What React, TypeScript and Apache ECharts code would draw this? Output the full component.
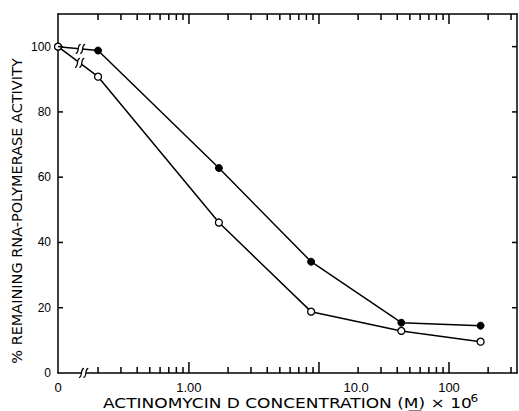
import React, { useEffect, useRef } from 'react';
import * as echarts from 'echarts';

// Actinomycin D concentration (M x 10^6); 0 = control
const concentrations = [0, 0.2, 1.7, 8.7, 43, 175];
// % remaining RNA-polymerase activity
const activityClosed = [100, 98.8, 62.8, 34.1, 15.4, 14.5];
const activityOpen = [100, 90.8, 46.1, 18.8, 12.9, 9.6];

const minorTickValues = [0.2, 0.3, 0.4, 0.5, 0.6, 0.7, 0.8, 0.9, 2, 3, 4, 5, 6, 7, 8, 9, 20, 30, 40, 50, 60, 70, 80, 90, 200, 300];
const majorTickValues = [1, 10, 100];
const xTickLabels = ['0', '1.00', '10.0', '100'];
const xTickLabelAt = [0, 1, 19.3, 100];
const yTickLabels = [0, 20, 40, 60, 80, 100];
const yInnerTicks = [20, 40, 60, 80, 100];
const axisBreakAt = 0.155;
const lineBreakFraction = [0.56, 0.54];

const X_MIN = -1.007;
const X_MAX = 2.523;
const Y_MAX = 110;
const toX = (c: number) => (c === 0 ? X_MIN : Math.log10(c));

export default function App() {
  const ref = useRef<HTMLDivElement>(null);
  useEffect(() => {
    document.body.style.margin = '0';
    const chart = echarts.init(ref.current!, undefined, { renderer: 'svg' });
    const closedData = concentrations.map((c, i) => [toX(c), activityClosed[i]]);
    const openData = concentrations.map((c, i) => [toX(c), activityOpen[i]]);
    const labelPos = xTickLabelAt.map(toX);

    // rows: [x0, y0, x1, y1, t, kind, rx, ry, rw, rh]
    // kind 0 = break mark at fraction t between (x0,y0) and (x1,y1); kind 1 = tick rect offset from (x0,y0)
    const marks: number[][] = [
      [closedData[0][0], closedData[0][1], closedData[1][0], closedData[1][1], lineBreakFraction[0], 0, 0, 0, 0, 0],
      [openData[0][0], openData[0][1], openData[1][0], openData[1][1], lineBreakFraction[1], 0, 0, 0, 0, 0],
      [toX(axisBreakAt), 0, toX(axisBreakAt), 0, 0, 0, 0, 0, 0, 0],
    ];
    const tick = (x: number, y: number, rx: number, ry: number, rw: number, rh: number) =>
      marks.push([x, y, x, y, 0, 1, rx, ry, rw, rh]);
    minorTickValues.forEach((v) => {
      tick(toX(v), 0, -0.75, -6, 1.5, 6);
      tick(toX(v), Y_MAX, -0.75, 0, 1.5, 6);
    });
    majorTickValues.forEach((v) => {
      tick(toX(v), 0, -0.75, -11, 1.5, 11);
      tick(toX(v), Y_MAX, -0.75, 0, 1.5, 10);
    });
    yInnerTicks.forEach((v) => {
      tick(X_MIN, v, 0, -0.75, 5, 1.5);
      tick(X_MAX, v, -5, -0.75, 5, 1.5);
    });

    const renderMark = (params: any, api: any) => {
      const a = api.coord([api.value(0), api.value(1)]);
      const kind = api.value(5);
      if (kind === 1) {
        return {
          type: 'group',
          children: [
            {
              type: 'rect',
              shape: { x: a[0] + api.value(6), y: a[1] + api.value(7), width: api.value(8), height: api.value(9) },
              style: { fill: '#000' },
            },
          ],
        };
      }
      const b = api.coord([api.value(2), api.value(3)]);
      const t = api.value(4);
      const cx = a[0] + (b[0] - a[0]) * t;
      const cy = a[1] + (b[1] - a[1]) * t;
      const s = (dx: number) => ({
        type: 'bezierCurve',
        shape: {
          x1: cx + dx - 2.5, y1: cy + 4.5,
          cpx1: cx + dx + 1.5, cpy1: cy + 4.5,
          cpx2: cx + dx - 1.5, cpy2: cy - 4.5,
          x2: cx + dx + 2.5, y2: cy - 4.5,
        },
        style: { stroke: '#000', lineWidth: 1.3, fill: 'none' },
      });
      return {
        type: 'group',
        children: [
          { type: 'rect', shape: { x: cx - 2.5, y: cy - 2, width: 5, height: 4 }, style: { fill: '#fff' } },
          s(-2.2),
          s(2.2),
        ],
      };
    };

    const axisLineStyle = { color: '#000', width: 1.5 };
    chart.setOption({
      animation: false,
      grid: { left: 58, right: 2, top: 14, bottom: 38, containLabel: false },
      xAxis: [
        {
          type: 'value', min: X_MIN, max: X_MAX, position: 'bottom',
          splitLine: { show: false },
          axisLine: { show: true, onZero: false, lineStyle: axisLineStyle },
          axisTick: { show: false },
          axisLabel: {
            show: true, customValues: labelPos, margin: 8,
            color: '#000', fontFamily: 'Liberation Sans', fontSize: 13,
            formatter: (v: number) => {
              const i = labelPos.findIndex((p) => Math.abs(p - v) < 1e-6);
              return i >= 0 ? xTickLabels[i] : '';
            },
          },
        },
        {
          type: 'value', min: X_MIN, max: X_MAX, position: 'top',
          splitLine: { show: false },
          axisLine: { show: true, onZero: false, lineStyle: axisLineStyle },
          axisTick: { show: false },
          axisLabel: { show: false },
        },
      ],
      yAxis: [
        {
          type: 'value', min: 0, max: Y_MAX, position: 'left',
          splitLine: { show: false },
          axisLine: { show: true, onZero: false, lineStyle: axisLineStyle },
          axisTick: { show: false },
          axisLabel: { show: true, customValues: yTickLabels, margin: 7, color: '#000', fontFamily: 'Liberation Sans', fontSize: 12 },
        },
        {
          type: 'value', min: 0, max: Y_MAX, position: 'right',
          splitLine: { show: false },
          axisLine: { show: true, onZero: false, lineStyle: axisLineStyle },
          axisTick: { show: false },
          axisLabel: { show: false },
        },
      ],
      series: [
        {
          type: 'line', name: 'closed', data: closedData,
          symbol: 'circle', symbolSize: 7, showAllSymbol: true,
          lineStyle: { color: '#000', width: 1.5 },
          itemStyle: { color: '#000', borderColor: '#000', borderWidth: 1 },
          z: 3,
        },
        {
          type: 'line', name: 'open', data: openData,
          symbol: 'circle', symbolSize: 7, showAllSymbol: true,
          lineStyle: { color: '#000', width: 1.5 },
          itemStyle: { color: '#fff', borderColor: '#000', borderWidth: 1.3 },
          z: 4,
        },
        {
          type: 'custom', data: marks, renderItem: renderMark, clip: false, silent: true, z: 5,
          dimensions: ['x', 'y', 'x1', 'y1', 't', 'kind', 'rx', 'ry', 'rw', 'rh'],
          encode: { x: 0, y: 1 },
        },
      ],
      graphic: [
        {
          type: 'group', x: 17, y: 211, rotation: Math.PI / 2, scaleX: 1.035,
          children: [
            {
              type: 'text', x: 0, y: 0,
              style: {
                text: '% REMAINING RNA-POLYMERASE ACTIVITY', fill: '#000',
                font: '14px "DejaVu Sans"', textAlign: 'center', textVerticalAlign: 'middle',
              },
            },
          ],
        },
        {
          type: 'group', x: 103, y: 404, scaleX: 1.215,
          children: [
            {
              type: 'text', x: 0, y: 0,
              style: {
                text: 'ACTINOMYCIN D CONCENTRATION (M) × 10', fill: '#000',
                font: '14px "DejaVu Sans"', textAlign: 'left', textVerticalAlign: 'middle',
              },
            },
            {
              type: 'text', x: 302.5, y: -5,
              style: { text: '6', fill: '#000', font: '10px "DejaVu Sans"', textAlign: 'left', textVerticalAlign: 'middle' },
            },
            { type: 'line', shape: { x1: 251.5, y1: 7, x2: 262, y2: 7 }, style: { stroke: '#000', lineWidth: 1 } },
          ],
        },
      ],
    });
    return () => chart.dispose();
  }, []);
  return <div ref={ref} style={{ width: 519, height: 411 }} />;
}
